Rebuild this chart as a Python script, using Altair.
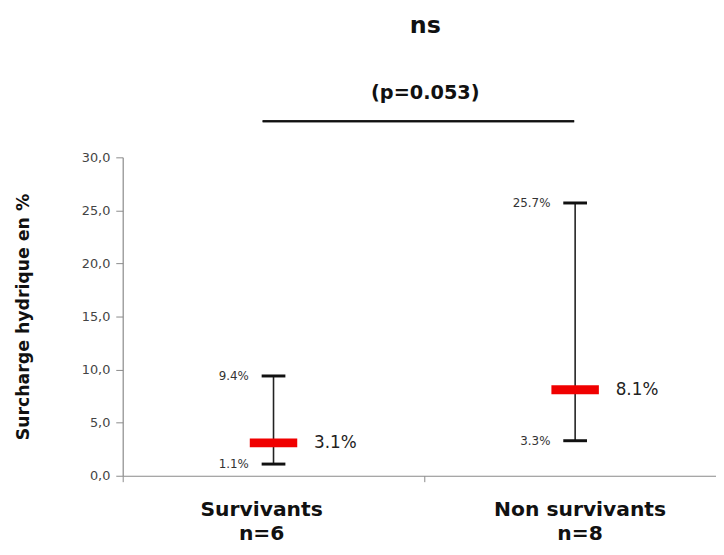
import altair as alt
import pandas as pd

groups = ["Survivants", "Non survivants"]
counts = ["n=6", "n=8"]
low = [1.1, 3.3]
high = [9.4, 25.7]
median = [3.1, 8.1]
low_labels = ["1.1%", "3.3%"]
high_labels = ["9.4%", "25.7%"]
median_labels = ["3.1%", "8.1%"]
y_ticks = [0, 5, 10, 15, 20, 25, 30]
title_text = "ns"
subtitle_text = "(p=0.053)"
bracket_y = 33.4
y_title = "Surcharge hydrique en %"

# category slots: each group sits in the middle of its slot; the axis is a bit
# shorter than two full slots (the second slot runs past the right edge)
slot_domain = [0, 1.967]
slot_ticks = [0, 1]
label_shift = [-12, 5]

FONT = "DejaVu Sans"

df = pd.DataFrame({
    "group": groups, "n": counts, "low": low, "high": high, "median": median,
    "low_label": low_labels, "high_label": high_labels, "median_label": median_labels,
    "pos": [i + 0.5 for i in range(len(groups))],
})

x_enc = alt.X(
    "pos:Q",
    scale=alt.Scale(domain=slot_domain, nice=False, zero=False),
    axis=alt.Axis(
        title=None, labels=False, values=slot_ticks, grid=False,
        tickSize=6, tickColor="#8a8a8a", domainColor="#8a8a8a", domainWidth=1.2,
    ),
)

y_scale = alt.Scale(domain=[0, 30], nice=False)
y_axis = alt.Axis(
    values=y_ticks, labelExpr="replace(format(datum.value, '.1f'), '.', ',')",
    labelFont=FONT, labelFontSize=13, labelColor="#444", labelPadding=6,
    tickSize=7, tickColor="#8a8a8a", domainColor="#8a8a8a", domainWidth=1.2, grid=False,
    title=y_title, titleFont=FONT, titleFontSize=17.5, titleFontWeight="bold",
    titleColor="#111", titlePadding=49,
)

base = alt.Chart(df).encode(x=x_enc)

whisker = base.mark_rule(color="#222", strokeWidth=1.6).encode(
    y=alt.Y("low:Q", scale=y_scale, axis=y_axis), y2="high:Q")
cap_low = base.mark_tick(color="#111", size=24, thickness=3, opacity=1, orient="horizontal").encode(y="low:Q")
cap_high = base.mark_tick(color="#111", size=24, thickness=3, opacity=1, orient="horizontal").encode(y="high:Q")
med = base.mark_tick(color="#f00000", size=48, thickness=9, opacity=1, orient="horizontal").encode(y="median:Q")

lab_low = base.mark_text(align="right", dx=-25, font=FONT, fontSize=12, color="#333").encode(
    y="low:Q", text="low_label:N")
lab_high = base.mark_text(align="right", dx=-25, font=FONT, fontSize=12, color="#333").encode(
    y="high:Q", text="high_label:N")
lab_med = base.mark_text(align="left", dx=41, font=FONT, fontSize=17, color="#222").encode(
    y="median:Q", text="median_label:N")

cat_layers = []
for g, shift in zip(groups, label_shift):
    cat_layers.append(
        base.transform_filter(alt.datum.group == g)
        .transform_calculate(lines="[datum.group, datum.n]")
        .mark_text(dx=shift, font=FONT, fontSize=20.5, fontWeight="bold", color="#111",
                   baseline="alphabetic", lineHeight=24)
        .encode(y=alt.value(363), text="lines:N")
    )

bracket = alt.Chart(df).mark_rule(color="#111", strokeWidth=2, xOffset=-11, x2Offset=-1).encode(
    x=alt.datum(0.5), x2=alt.datum(1.5), y=alt.datum(bracket_y))

chart = alt.layer(
    whisker, cap_low, cap_high, med, lab_low, lab_high, lab_med, *cat_layers, bracket
).properties(
    width=600, height=322,
    title=alt.TitleParams(
        text=title_text, subtitle=subtitle_text, anchor="middle", frame="group", dx=6,
        font=FONT, fontSize=24, fontWeight="bold", color="#111",
        subtitleFont=FONT, subtitleFontSize=19.5, subtitleFontWeight="bold", subtitleColor="#111",
        subtitlePadding=47, offset=18,
    ),
    autosize=alt.AutoSizeParams(type="none"),
    padding={"left": 116, "top": 148, "right": 0, "bottom": 66},
).configure(background="white").configure_view(stroke=None)

chart.save("out.html", embed_options={"renderer": "svg", "actions": False})
